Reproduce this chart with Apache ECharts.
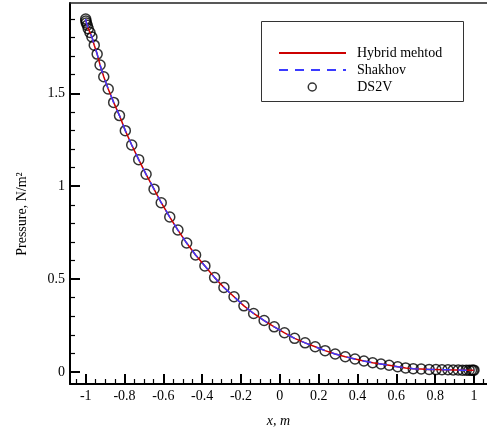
<!DOCTYPE html>
<html>
<head>
<meta charset="utf-8">
<script src="https://cdn.jsdelivr.net/npm/echarts@6/dist/echarts.min.js"></script>
<style>html,body{margin:0;padding:0;background:#fff}#c{width:487px;height:436px}</style>
</head>
<body>
<div id="c"></div>
<script>
const xValues = [-1.000,-0.999,-0.997,-0.992,-0.987,-0.978,-0.968,-0.956,-0.941,-0.926,-0.907,-0.884,-0.856,-0.826,-0.796,-0.763,-0.727,-0.689,-0.648,-0.611,-0.567,-0.525,-0.480,-0.434,-0.386,-0.336,-0.288,-0.236,-0.185,-0.135,-0.081,-0.029,0.024,0.076,0.130,0.182,0.233,0.285,0.337,0.387,0.433,0.478,0.521,0.563,0.607,0.648,0.687,0.728,0.769,0.804,0.835,0.866,0.893,0.919,0.941,0.960,0.975,0.987,0.995,1.000];
const pressureDS2V = [1.900,1.889,1.879,1.866,1.848,1.827,1.803,1.759,1.711,1.652,1.589,1.523,1.451,1.380,1.299,1.222,1.143,1.064,0.984,0.911,0.834,0.764,0.694,0.630,0.571,0.508,0.455,0.405,0.356,0.315,0.277,0.243,0.211,0.181,0.157,0.136,0.115,0.097,0.082,0.070,0.059,0.050,0.043,0.036,0.028,0.022,0.018,0.016,0.014,0.013,0.012,0.012,0.011,0.011,0.010,0.010,0.010,0.010,0.010,0.010];
const pressureHybrid = [1.900,1.889,1.879,1.866,1.848,1.827,1.803,1.759,1.711,1.652,1.589,1.523,1.451,1.380,1.299,1.222,1.143,1.064,0.984,0.911,0.834,0.764,0.694,0.630,0.571,0.508,0.455,0.405,0.356,0.315,0.277,0.243,0.211,0.181,0.157,0.136,0.115,0.097,0.082,0.070,0.059,0.050,0.043,0.036,0.028,0.022,0.018,0.016,0.014,0.013,0.012,0.012,0.011,0.011,0.010,0.010,0.010,0.010,0.010,0.010];
const pressureShakhov = [1.900,1.889,1.879,1.866,1.848,1.827,1.803,1.759,1.711,1.652,1.589,1.523,1.451,1.380,1.299,1.222,1.143,1.064,0.984,0.911,0.834,0.764,0.694,0.630,0.571,0.508,0.455,0.405,0.356,0.315,0.277,0.243,0.211,0.181,0.157,0.136,0.115,0.097,0.082,0.070,0.059,0.050,0.043,0.036,0.028,0.022,0.018,0.016,0.014,0.013,0.012,0.012,0.011,0.011,0.010,0.010,0.010,0.010,0.010,0.010];
const xTickLabels = [-1,-0.8,-0.6,-0.4,-0.2,0,0.2,0.4,0.6,0.8,1];
const yTickLabels = [0,0.5,1,1.5];
const seriesNames = ['Hybrid mehtod','Shakhov','DS2V'];

const xMinor = [];
for (let i = -21; i <= 21; i++) { if (i % 4 !== 0) xMinor.push(+(i * 0.05).toFixed(2)); }
const yMinor = [];
for (let i = 1; i <= 19; i++) { if (i % 5 !== 0) yMinor.push(+(i * 0.1).toFixed(1)); }

const FONT = '"Liberation Serif", "Times New Roman", serif';
const XMIN = -1.0809, XMAX = 1.067, YMIN = -0.0646, YMAX = 1.986;

const pairs = arr => xValues.map((x, i) => [x, arr[i]]);
const hiddenSymbol = {color: 'rgba(0,0,0,0)', borderColor: 'rgba(0,0,0,0)', borderWidth: 0};

const chart = echarts.init(document.getElementById('c'), null, {renderer: 'canvas'});
chart.setOption({
  animation: false,
  backgroundColor: '#fff',
  grid: {left: 70, right: 0, top: 3, bottom: 52, containLabel: false},
  xAxis: [
    {
      type: 'value', min: XMIN, max: XMAX, position: 'bottom',
      name: 'x, m', nameLocation: 'middle', nameGap: 30,
      nameTextStyle: {fontFamily: FONT, fontSize: 14, fontStyle: 'italic', color: '#000'},
      axisLine: {show: true, onZero: false, lineStyle: {color: '#000', width: 2}},
      axisTick: {show: true, inside: true, length: 10, customValues: xTickLabels, lineStyle: {color: '#000', width: 2}},
      axisLabel: {show: true, customValues: xTickLabels, fontFamily: FONT, fontSize: 14, color: '#000', margin: 5},
      splitLine: {show: false}
    },
    {
      type: 'value', min: XMIN, max: XMAX, position: 'bottom', gridIndex: 0,
      axisLine: {show: false, onZero: false},
      axisTick: {show: true, inside: true, length: 5, customValues: xMinor, lineStyle: {color: '#000', width: 1.2}},
      axisLabel: {show: false},
      splitLine: {show: false}
    },
    {
      type: 'value', min: XMIN, max: XMAX, position: 'top', gridIndex: 0,
      axisLine: {show: true, onZero: false, lineStyle: {color: '#222', width: 1.5}},
      axisTick: {show: false}, axisLabel: {show: false}, splitLine: {show: false}
    }
  ],
  yAxis: [
    {
      type: 'value', min: YMIN, max: YMAX, position: 'left',
      axisLine: {show: true, onZero: false, lineStyle: {color: '#000', width: 2}},
      axisTick: {show: true, inside: true, length: 10, customValues: yTickLabels, lineStyle: {color: '#000', width: 2}},
      axisLabel: {show: true, customValues: yTickLabels, fontFamily: FONT, fontSize: 14, color: '#000', margin: 5},
      splitLine: {show: false}
    },
    {
      type: 'value', min: YMIN, max: YMAX, position: 'left', gridIndex: 0,
      axisLine: {show: false, onZero: false},
      axisTick: {show: true, inside: true, length: 5, customValues: yMinor, lineStyle: {color: '#000', width: 1.2}},
      axisLabel: {show: false},
      splitLine: {show: false}
    }
  ],
  legend: [
    {
      data: [{name: seriesNames[0], itemStyle: hiddenSymbol}, {name: seriesNames[1], itemStyle: hiddenSymbol}],
      orient: 'vertical', left: 278, top: 46,
      itemWidth: 67, itemHeight: 14, itemGap: 3, padding: 0,
      textStyle: {fontFamily: FONT, fontSize: 14, color: '#000', padding: [0, 0, 0, 6]}
    },
    {
      data: [{name: seriesNames[2], icon: 'circle'}], orient: 'vertical', left: 307.5, top: 80,
      itemWidth: 8, itemHeight: 8, padding: 0,
      itemStyle: {borderWidth: 1.5, borderColor: '#000', color: 'rgba(255,255,255,0)'},
      textStyle: {fontFamily: FONT, fontSize: 14, color: '#000', padding: [0, 0, 0, 36]}
    }
  ],
  graphic: [
    {type: 'rect', shape: {x: 261.5, y: 21.5, width: 202, height: 80}, style: {fill: 'none', stroke: '#333', lineWidth: 1}, z: 100},
    {type: 'text', x: 22, y: 214, rotation: Math.PI / 2,
     style: {text: 'Pressure, N/m²', fontFamily: FONT, fontSize: 14, fill: '#000', align: 'center', verticalAlign: 'middle'}}
  ],
  series: [
    {
      name: seriesNames[2], type: 'scatter', data: pairs(pressureDS2V), symbol: 'circle', symbolSize: 10,
      itemStyle: {color: 'rgba(255,255,255,0)', borderColor: '#000', borderWidth: 1.5}, z: 2
    },
    {
      name: seriesNames[0], type: 'line', data: pairs(pressureHybrid), showSymbol: false, symbol: 'none',
      lineStyle: {color: '#cc0000', width: 1.5}, itemStyle: {color: '#cc0000'}, z: 3
    },
    {
      name: seriesNames[1], type: 'line', data: pairs(pressureShakhov), showSymbol: false, symbol: 'none',
      lineStyle: {color: '#3a3aff', width: 1.5, type: [9, 7]}, itemStyle: {color: '#3a3aff'}, z: 4
    }
  ]
});
</script>
</body>
</html>
